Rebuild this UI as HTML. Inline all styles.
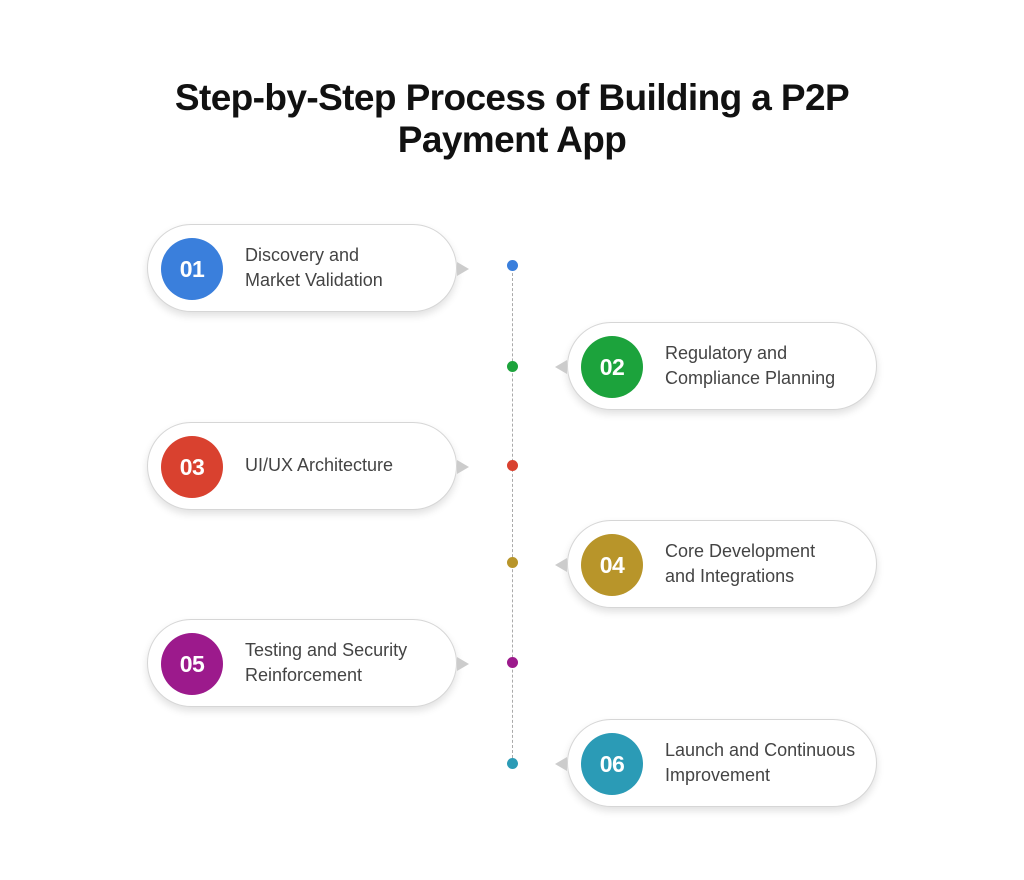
<!DOCTYPE html>
<html><head><meta charset="utf-8"><style>
body{margin:0;width:1024px;height:880px;background:#fff;position:relative;overflow:hidden;font-family:"Liberation Sans",sans-serif}
.t{position:absolute;left:0;width:1024px;text-align:center;font-weight:bold;font-size:37px;letter-spacing:-0.6px;color:#111}
.pill{position:absolute;width:310px;height:88px;border-radius:44px;background:#fff;border:1.5px solid #d6d6d6;box-shadow:0 4px 8px rgba(0,0,0,0.12);box-sizing:border-box}
.c{position:absolute;top:13px;width:62px;height:62px;border-radius:50%;color:#fff;font-weight:bold;font-size:23px;text-align:center;line-height:62px;letter-spacing:-0.5px}
.L .c{left:13px}.R .c{left:13px}
.tx{position:absolute;left:97px;top:0;height:85px;display:flex;align-items:center;font-size:18px;line-height:25px;color:#444;letter-spacing:0px}
.arr{position:absolute;top:37px;width:0;height:0;border-top:7px solid transparent;border-bottom:7px solid transparent}
.L .arr{right:-13px;border-left:12px solid #ccc}
.R .arr{left:-13px;border-right:12px solid #ccc}
.d{position:absolute;left:507px;width:11px;height:11px;border-radius:50%}
.line{position:absolute;left:512px;top:268px;height:495px;border-left:1px dashed #aaa}
</style></head><body>
<div class="t" style="top:77px">Step-by-Step Process of Building a P2P</div>
<div class="t" style="top:119px">Payment App</div>
<div class="line"></div>

<div class="pill L" style="left:147px;top:224px"><div class="arr"></div><div class="c" style="background:#3a7fdc">01</div><div class="tx">Discovery and<br>Market Validation</div></div>
<div class="d" style="top:260px;background:#3a7fdc"></div>

<div class="pill R" style="left:567px;top:322px"><div class="arr"></div><div class="c" style="background:#1ca33c">02</div><div class="tx">Regulatory and<br>Compliance Planning</div></div>
<div class="d" style="top:361px;background:#1ca33c"></div>

<div class="pill L" style="left:147px;top:422px"><div class="arr"></div><div class="c" style="background:#d9412f">03</div><div class="tx">UI/UX Architecture</div></div>
<div class="d" style="top:460px;background:#d9412f"></div>

<div class="pill R" style="left:567px;top:520px"><div class="arr"></div><div class="c" style="background:#b8952a">04</div><div class="tx">Core Development<br>and Integrations</div></div>
<div class="d" style="top:557px;background:#b8952a"></div>

<div class="pill L" style="left:147px;top:619px"><div class="arr"></div><div class="c" style="background:#9c1a8c">05</div><div class="tx">Testing and Security<br>Reinforcement</div></div>
<div class="d" style="top:657px;background:#9c1a8c"></div>

<div class="pill R" style="left:567px;top:719px"><div class="arr"></div><div class="c" style="background:#2b9bb6">06</div><div class="tx">Launch and Continuous<br>Improvement</div></div>
<div class="d" style="top:758px;background:#2b9bb6"></div>
</body></html>
